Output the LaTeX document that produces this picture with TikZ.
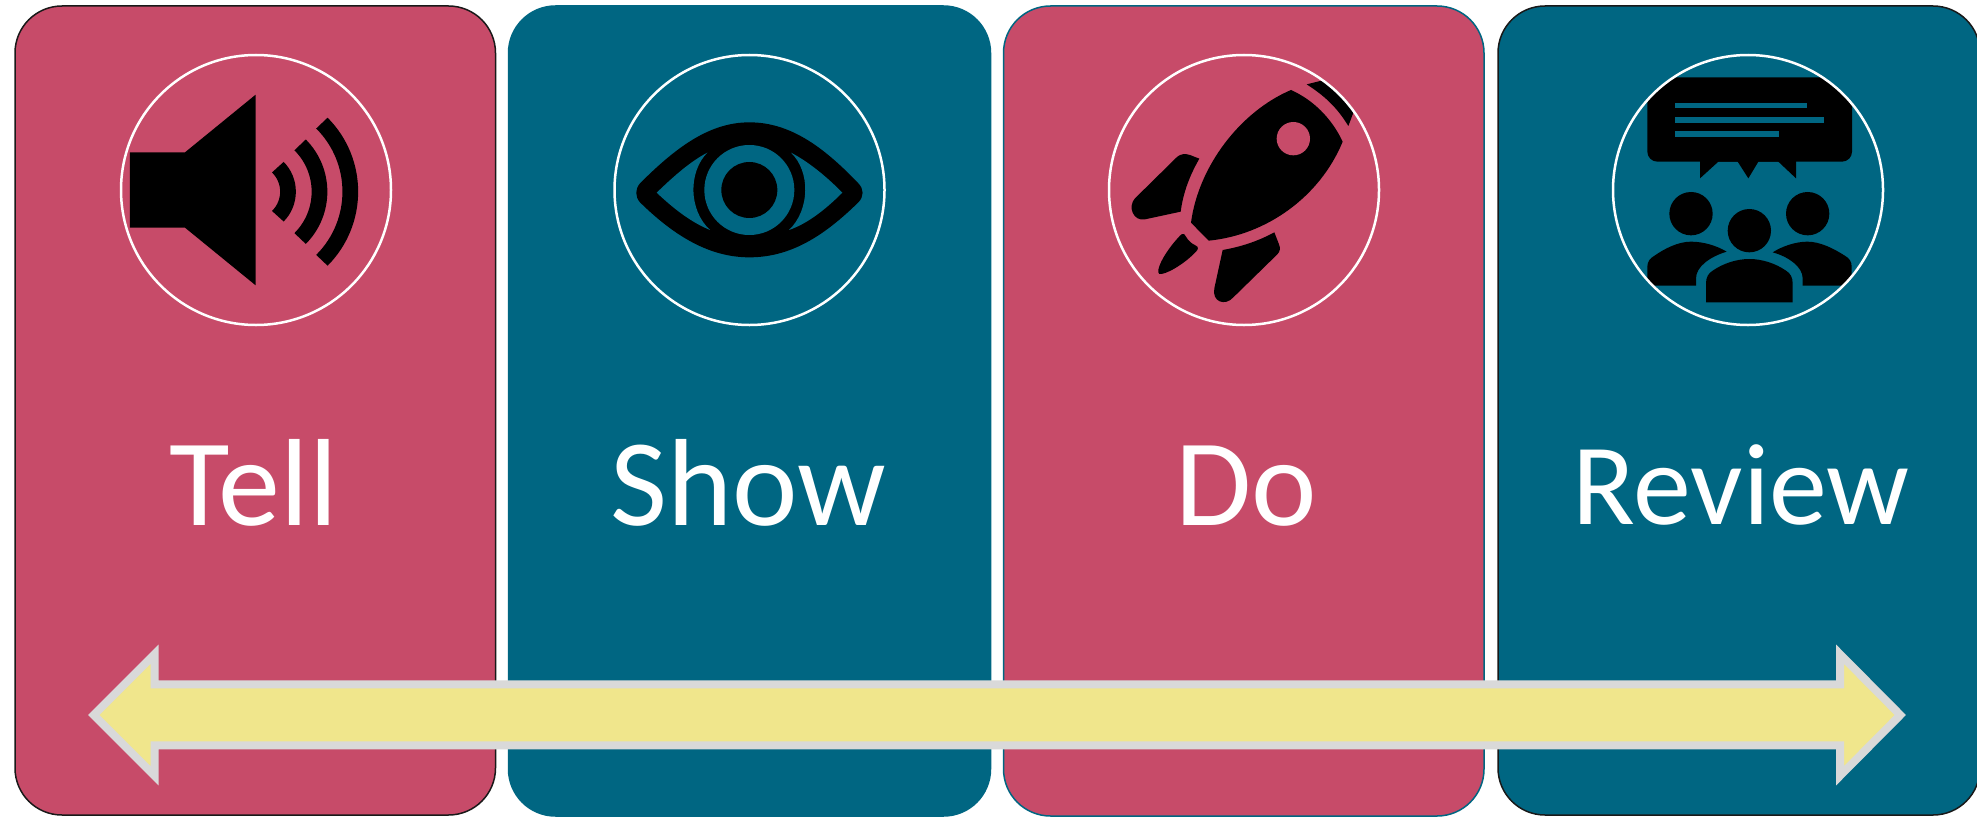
\documentclass[tikz,border=0pt]{standalone}
\usepackage{fontspec}
\setmainfont{Carlito}
\definecolor{rose}{HTML}{C74B69}
\definecolor{teal}{HTML}{006682}
\definecolor{bar}{HTML}{F0E68C}
\definecolor{barline}{HTML}{D9D9D9}
\tikzset{
  panel/.style={rounded corners=47pt,line width=1.5pt},
  ring/.style={draw=white,line width=2.5pt},
  label/.style={text=white,font=\fontsize{124}{124}\selectfont,anchor=base},
  smalllabel/.style={text=white,font=\fontsize{116}{116}\selectfont,anchor=base},
  wave/.style={line width=15.7pt,draw=black,line cap=butt},
  zoomed/.style={x=0.33333pt,y=-0.33333pt}
}
\begin{document}
\begin{tikzpicture}[x=1pt,y=-1pt]
\useasboundingbox (0,0) rectangle (1977,816);
\fill[white] (0,0) rectangle (1977,816);
% panels
\draw[panel,fill=rose,draw=black!90] (15,6) rectangle (495.5,815);
\draw[panel,fill=teal,draw=teal] (508.5,6) rectangle (990.5,816);
\draw[panel,fill=rose,draw=teal] (1003.5,6) rectangle (1484,816);
\draw[panel,fill=teal,draw=black!90] (1498,6) rectangle (1980,815);
% speaker
\begin{scope}[zoomed]
\fill (390,457) -- (555,457) -- (767,284) -- (767,856) -- (555,683) -- (390,683) -- cycle;
\end{scope}
\begin{scope}[shift={(253.3,191.7)}]
\draw[wave] (45:34.7) arc[start angle=45,end angle=-45,radius=34.7];
\draw[wave] (45:66.2) arc[start angle=45,end angle=-45,radius=66.2];
\draw[wave] (45:97) arc[start angle=45,end angle=-45,radius=97];
\end{scope}
% eye
\begin{scope}[shift={(590,40)},zoomed]
\fill (150,430) .. controls (260,320) and (360,247) .. (478,247)
  .. controls (600,247) and (700,320) .. (805,430)
  .. controls (822,447) and (822,470) .. (805,487)
  .. controls (700,590) and (600,652) .. (478,652)
  .. controls (360,652) and (255,590) .. (150,487)
  .. controls (135,470) and (135,447) .. (150,430) -- cycle;
\fill[teal] (200,458) .. controls (250,410) and (300,365) .. (352,338)
  .. controls (295,395) and (295,510) .. (360,570)
  .. controls (300,545) and (250,505) .. (200,458) -- cycle;
\fill[teal] (757,458) .. controls (710,410) and (655,365) .. (603,338)
  .. controls (662,395) and (660,510) .. (597,570)
  .. controls (655,550) and (710,505) .. (757,458) -- cycle;
\fill[teal] (478,450) circle[radius=135];
\fill (478,450) circle[radius=84];
\end{scope}
% rocket
\begin{scope}[shift={(1070,40)},zoomed]
\begin{scope}
\clip (525,450) circle[radius=405];
\fill (710,133) -- (770,118) -- (855,205) -- (835,258)
  .. controls (800,200) and (760,165) .. (710,133) -- cycle;
\end{scope}
\fill (663,150) .. controls (730,180) and (785,235) .. (818,305)
  .. controls (750,470) and (590,585) .. (416,602) -- (363,548)
  .. controls (385,380) and (510,215) .. (663,150) -- cycle;
\fill[rose] (670,296) circle[radius=50];
\fill (388,356) -- (360,345) .. controls (345,340) and (332,342) .. (322,350)
  -- (195,475) .. controls (172,500) and (190,545) .. (225,538)
  -- (332,515) .. controls (340,455) and (360,405) .. (388,356) -- cycle;
\fill (613,577) -- (627,613) .. controls (632,625) and (630,635) .. (622,643)
  -- (490,772) .. controls (465,800) and (425,785) .. (433,745)
  -- (458,630) .. controls (515,620) and (565,603) .. (613,577) -- cycle;
\fill (342,582) .. controls (350,590) and (352,605) .. (378,617)
  .. controls (386,621) and (385,628) .. (378,635)
  .. controls (340,675) and (285,705) .. (268,702)
  .. controls (255,695) and (280,640) .. (330,587)
  .. controls (334,583) and (338,580) .. (342,582) -- cycle;
\end{scope}
% audience
\begin{scope}[shift={(1570,40)},zoomed]
\begin{scope}
\clip (535,450) circle[radius=405];
\fill[rounded corners=10pt] (232,112) -- (846,112) -- (846,365) -- (232,365) -- cycle;
\fill (390,360) -- (390,415) -- (445,365) -- (503,365) -- (535,415) -- (565,365) -- (625,365) -- (678,415) -- (678,360) -- cycle;
\fill (232,737) -- (232,680) .. controls (232,665) and (240,655) .. (252,648)
  .. controls (285,625) and (325,605) .. (363,605)
  .. controls (400,605) and (440,617) .. (470,635)
  .. controls (420,650) and (378,680) .. (378,715) -- (378,737) -- cycle;
\fill (845,737) -- (845,680) .. controls (845,665) and (838,655) .. (826,648)
  .. controls (790,625) and (750,605) .. (712,605)
  .. controls (675,605) and (635,620) .. (608,637)
  .. controls (655,650) and (698,680) .. (698,715) -- (698,737) -- cycle;
\end{scope}
\fill[teal] (316,188) rectangle (711,205);
\fill[teal] (316,231) rectangle (762,248);
\fill[teal] (316,273) rectangle (627,290);
\fill (363,521) circle[radius=65];
\fill (713,521) circle[radius=65];
\fill (538,572) circle[radius=65];
\fill (408,787) -- (408,730) .. controls (408,712) and (415,700) .. (428,692)
  .. controls (460,670) and (500,657) .. (538,657)
  .. controls (576,657) and (616,670) .. (648,692)
  .. controls (661,700) and (668,712) .. (668,730) -- (668,787) -- cycle;
\end{scope}
% rings
\draw[ring] (256,190) circle[radius=135];
\draw[ring] (749.5,190) circle[radius=135];
\draw[ring] (1244,190) circle[radius=135];
\draw[ring] (1748,190) circle[radius=135];
% labels
\node[label] (tell) at (253.5,525) {Tell};
\node[label] (show) at (748,525) {Show};
\node[label] (do) at (1246,525) {Do};
\node[smalllabel] (review) at (1741,524.5) {Review};
% arrow
\draw[draw=barline,fill=bar,line width=8pt,miter limit=10]
  (93.8,715) -- (154.5,654.3) -- (154.5,684.3) -- (1840.1,684.3) -- (1840.1,654.3)
  -- (1900.3,715) -- (1840.1,775.7) -- (1840.1,745.3) -- (154.5,745.3) -- (154.5,775.7) -- cycle;
\end{tikzpicture}
\end{document}
